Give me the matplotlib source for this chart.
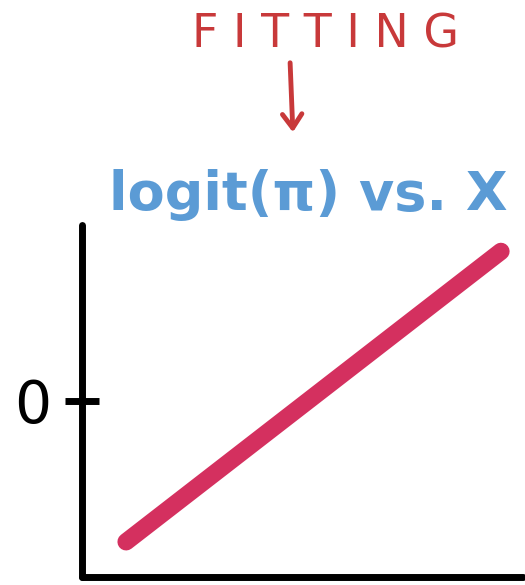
import matplotlib
matplotlib.use("Agg")
import matplotlib.pyplot as plt

# data
x_vals = [1.0, 9.5]
logit_vals = [-3.2, 3.4]
y_tick_vals = [0]
y_tick_labels = ["0"]

W, H = 525, 585
fig = plt.figure(figsize=(W / 100, H / 100), dpi=100)
ax = fig.add_axes([82 / W, (H - 577) / H, (523 - 82) / W, (577 - 225) / H])

ax.plot(x_vals, logit_vals, color="#d4305f", lw=12.5, solid_capstyle="round")
ax.set_xlim(0, 10)
ax.set_ylim(-4, 4)

for s in ["top", "right"]:
    ax.spines[s].set_visible(False)
for s in ["left", "bottom"]:
    ax.spines[s].set_linewidth(5)
    ax.spines[s].set_color("black")
    ax.spines[s].set_capstyle("round")

ax.set_xticks([])
ax.set_yticks(y_tick_vals)
ax.set_yticklabels(y_tick_labels, fontsize=42, fontfamily="DejaVu Sans")
ax.tick_params(axis="y", direction="inout", length=25, width=5, pad=10)

fig.text(308 / W, 1 - 195 / H, "logit(π) vs. X", color="#5b9bd5",
         fontsize=39, ha="center", va="center", fontweight="bold",
         fontfamily="DejaVu Sans")
fig.text(325 / W, 1 - 35 / H, "F I T T I N G", color="#c8393a",
         fontsize=33, ha="center", va="center", fontfamily="DejaVu Sans")
fig.add_artist(matplotlib.patches.FancyArrowPatch(
    (290 / W, 1 - 60 / H), (293 / W, 1 - 135 / H),
    transform=fig.transFigure, arrowstyle="->,head_length=10,head_width=7",
    color="#c8393a", lw=3.5))

fig.savefig("out.png", dpi=100, facecolor="white")
